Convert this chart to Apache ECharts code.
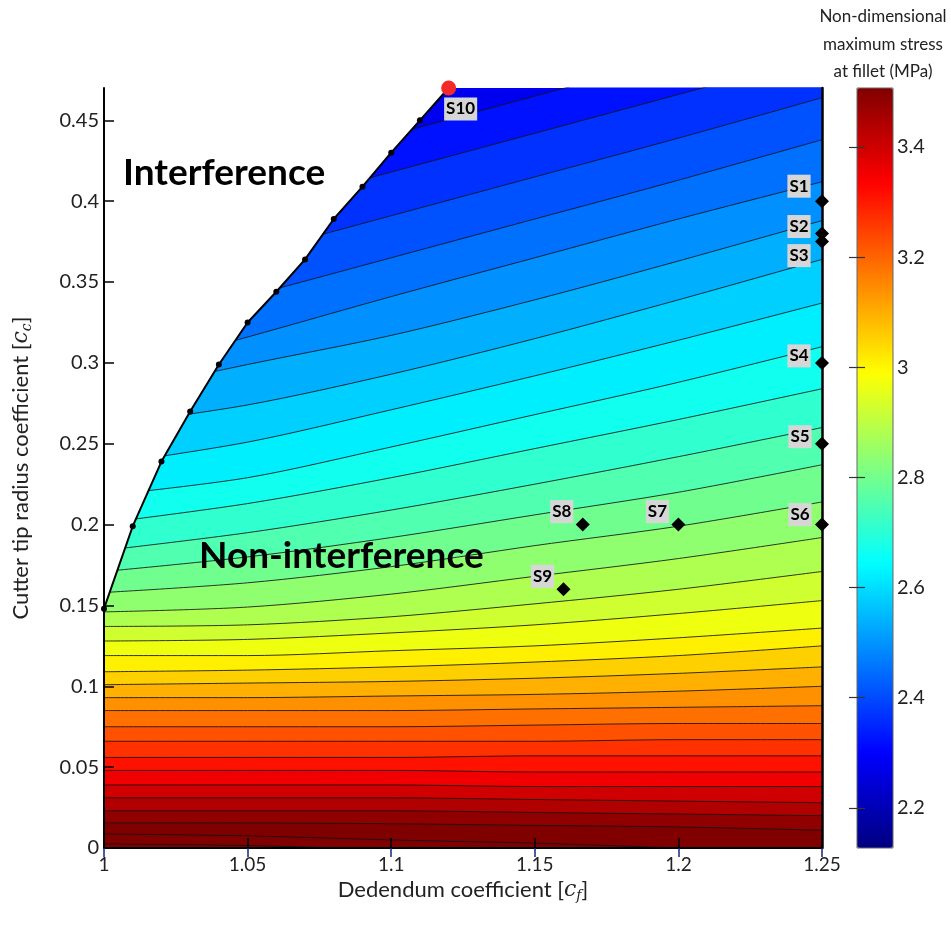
<!DOCTYPE html>
<html>
<head>
<meta charset="utf-8">
<script src="https://cdn.jsdelivr.net/npm/echarts@6/dist/echarts.min.js"></script>
<style>html,body{margin:0;padding:0;background:#fff}#c{width:951px;height:931px}</style>
</head>
<body>
<div id="c"></div>
<script>
// ---------------- data ----------------
const xCols = [1.00, 1.05, 1.10, 1.15, 1.20, 1.25];
// stress level of each contour line (lowest stress / top line first)
const contourLevels = [2.301, 2.344, 2.387, 2.430, 2.473, 2.516, 2.559, 2.602, 2.645, 2.688, 2.731,
  2.774, 2.817, 2.860, 2.903, 2.946, 2.989, 3.032, 3.075, 3.118, 3.161, 3.204, 3.247, 3.290, 3.333,
  3.376, 3.419, 3.462, 3.505, 3.548, 3.591];
// cutter tip radius coefficient of each contour line at xCols
const contourY = [
  [0.382, 0.417, 0.441, 0.465, 0.489, 0.513],
  [0.370, 0.394, 0.418, 0.442, 0.466, 0.490],
  [0.343, 0.367, 0.391, 0.415, 0.439, 0.464],
  [0.317, 0.341, 0.365, 0.389, 0.413, 0.438],
  [0.292, 0.316, 0.341, 0.365, 0.389, 0.412],
  [0.280, 0.299, 0.317, 0.339, 0.363, 0.388],
  [0.261, 0.274, 0.293, 0.315, 0.339, 0.364],
  [0.237, 0.251, 0.271, 0.292, 0.314, 0.337],
  [0.218, 0.229, 0.248, 0.268, 0.288, 0.310],
  [0.201, 0.213, 0.229, 0.247, 0.265, 0.284],
  [0.184, 0.195, 0.209, 0.225, 0.242, 0.260],
  [0.171, 0.180, 0.192, 0.206, 0.220, 0.237],
  [0.158, 0.164, 0.174, 0.187, 0.199, 0.214],
  [0.146, 0.149, 0.157, 0.168, 0.179, 0.192],
  [0.137, 0.138, 0.143, 0.151, 0.160, 0.171],
  [0.128, 0.129, 0.133, 0.138, 0.145, 0.153],
  [0.119, 0.119, 0.122, 0.125, 0.130, 0.136],
  [0.109, 0.110, 0.112, 0.115, 0.119, 0.125],
  [0.101, 0.102, 0.103, 0.105, 0.108, 0.112],
  [0.093, 0.093, 0.094, 0.095, 0.097, 0.100],
  [0.085, 0.085, 0.085, 0.086, 0.087, 0.088],
  [0.075, 0.075, 0.075, 0.076, 0.077, 0.077],
  [0.066, 0.066, 0.066, 0.066, 0.067, 0.067],
  [0.056, 0.056, 0.056, 0.057, 0.057, 0.057],
  [0.048, 0.048, 0.048, 0.047, 0.047, 0.047],
  [0.039, 0.039, 0.039, 0.038, 0.038, 0.038],
  [0.031, 0.031, 0.031, 0.030, 0.029, 0.028],
  [0.023, 0.023, 0.023, 0.022, 0.021, 0.020],
  [0.0155, 0.0155, 0.015, 0.014, 0.013, 0.011],
  [0.0087, 0.0075, 0.005, 0.003, 0.000, -0.003],
  [0.0025, 0.0015, -0.001, -0.004, -0.007, -0.010]
];
const topBandLevel = 2.28;
// interference boundary
const boundaryX = [1.00, 1.01, 1.02, 1.03, 1.04, 1.05, 1.06, 1.07, 1.08, 1.09, 1.10, 1.11, 1.12];
const boundaryY = [0.148, 0.199, 0.239, 0.270, 0.299, 0.325, 0.344, 0.364, 0.389, 0.409, 0.430, 0.450, 0.47];
// design points
const pointNames = ['S1', 'S2', 'S3', 'S4', 'S5', 'S6', 'S7', 'S8', 'S9'];
const pointX = [1.25, 1.25, 1.25, 1.25, 1.25, 1.25, 1.20, 1.1667, 1.16];
const pointY = [0.40, 0.38, 0.375, 0.30, 0.25, 0.20, 0.20, 0.20, 0.16];
const optimumName = 'S10';
const optimumX = 1.12, optimumY = 0.47;
const colorbarMin = 2.127, colorbarMax = 3.507;
const colorbarTicks = [2.2, 2.4, 2.6, 2.8, 3.0, 3.2, 3.4];

// ---------------- style ----------------
const labelOffsets = [[-23,-15],[-23,-7],[-23,14],[-23,-7],[-22,-7],[-22,-10],[-21,-13],[-21,-13],[-21,-13]];
const FONT = 'Lato';
function jet(v) {
  let t = (v - colorbarMin) / (colorbarMax - colorbarMin);
  t = Math.max(0, Math.min(1, t));
  const c = x => Math.round(255 * Math.max(0, Math.min(1, x)));
  const r = c(Math.min(4 * t - 1.5, -4 * t + 4.5));
  const g = c(Math.min(4 * t - 0.5, -4 * t + 3.5));
  const b = c(Math.min(4 * t + 0.5, -4 * t + 2.5));
  return `rgb(${r},${g},${b})`;
}
const jetStops = ['#000080', '#0000ff', '#0080ff', '#00ffff', '#80ff80', '#ffff00', '#ff8000', '#ff0000', '#800000'];
const labelBox = { color: '#000', fontWeight: 'bold', fontSize: 17, fontFamily: FONT,
  backgroundColor: '#d6d6d6', padding: [4, 2, 2, 2] };

const series = [];
contourY.forEach((row, k) => {
  const next = k + 1 < contourLevels.length ? contourLevels[k + 1] : contourLevels[k] + 0.043;
  series.push({
    type: 'line', xAxisIndex: 0, yAxisIndex: 0,
    data: xCols.map((x, i) => [x, row[i]]),
    smooth: 0.3, symbol: 'none', silent: true, z: 2,
    lineStyle: { color: '#141414', width: 1, opacity: 0.85 },
    areaStyle: { color: jet((contourLevels[k] + next) / 2), opacity: 1, origin: 'start' }
  });
});
// interference region (white, above the boundary)
series.push({
  type: 'line', xAxisIndex: 0, yAxisIndex: 0, z: 3, silent: true,
  data: boundaryX.map((x, i) => [x, boundaryY[i]]),
  smooth: false,
  symbol: 'circle', symbolSize: 6, showAllSymbol: true,
  itemStyle: { color: '#000', opacity: 1 },
  lineStyle: { color: '#000', width: 2 },
  areaStyle: { color: '#fff', opacity: 1, origin: 'end' }
});
// design points
series.push({
  type: 'scatter', xAxisIndex: 0, yAxisIndex: 0, z: 6, clip: false,
  symbol: 'diamond', symbolSize: 14, itemStyle: { color: '#000', opacity: 1 },
  data: pointNames.map((n, i) => ({
    name: n, value: [pointX[i], pointY[i]],
    label: Object.assign({ show: true, position: 'inside', offset: labelOffsets[i], formatter: n }, labelBox)
  }))
});
// optimum
series.push({
  type: 'scatter', xAxisIndex: 0, yAxisIndex: 0, z: 7, clip: false,
  symbol: 'circle', symbolSize: 15, itemStyle: { color: '#f42a2a', opacity: 1 },
  data: [{ name: optimumName, value: [optimumX, optimumY],
    label: Object.assign({ show: true, position: 'inside', offset: [12, 21], formatter: optimumName }, labelBox) }]
});
series.push({
  type: 'scatter', xAxisIndex: 0, yAxisIndex: 0, z: 7, clip: false,
  symbol: 'none', symbolSize: 1,
  data: [{ value: [optimumX, optimumY],
    label: { show: true, position: 'inside', offset: [-2, -19], formatter: 'Optimum',
      color: '#000', fontWeight: 'bold', fontSize: 18, fontFamily: FONT } }]
});
// dummy for colour bar
series.push({ type: 'scatter', xAxisIndex: 1, yAxisIndex: 2, data: [] });
const dummyIndex = series.length - 1;

const richName = {
  n: { fontSize: 22, fontFamily: FONT, color: '#222' },
  i: { fontSize: 22, fontFamily: 'DejaVu Serif', fontStyle: 'italic', color: '#222' },
  s: { fontSize: 14, fontFamily: 'DejaVu Serif', fontStyle: 'italic', color: '#222', padding: [12, 0, 0, 0] }
};

const chart = echarts.init(document.getElementById('c'), null, { renderer: 'canvas' });
chart.setOption({
  animation: false,
  textStyle: { fontFamily: FONT },
  grid: [
    { left: 104, top: 88, right: 129, bottom: 83, show: true, backgroundColor: jet(topBandLevel), borderWidth: 0 },
    { left: 857, top: 88, width: 36, height: 760, show: true, backgroundColor: 'transparent', borderColor: '#666', borderWidth: 1, z: 10 }
  ],
  xAxis: [
    { type: 'value', gridIndex: 0, min: 1, max: 1.25, interval: 0.05, z: 10,
      name: '{n|Dedendum coefficient [}{i|c}{s|f}{n|]}', nameLocation: 'middle', nameGap: 24,
      nameTextStyle: { rich: richName },
      axisLine: { lineStyle: { color: '#000', width: 2 } },
      axisTick: { inside: true, length: 10, lineStyle: { color: '#000', width: 1.5 } },
      axisLabel: { fontSize: 19, color: '#222', margin: 7 },
      splitLine: { show: false } },
    { type: 'value', gridIndex: 1, show: false, min: 0, max: 1 },
    { type: 'value', gridIndex: 0, position: 'top', min: 1, max: 1.25, interval: 0.05, z: 10,
      axisLine: { show: true, lineStyle: { color: '#000', width: 1.5 } },
      axisTick: { inside: true, length: 9, lineStyle: { color: '#1a237e', width: 1.5 } },
      axisLabel: { show: false }, splitLine: { show: false } }
  ],
  yAxis: [
    { type: 'value', gridIndex: 0, min: 0, max: 0.47, interval: 0.05, z: 10,
      name: '{n|Cutter tip radius coefficient [}{i|c}{s|c}{n|]}', nameLocation: 'middle', nameGap: 70,
      nameTextStyle: { rich: richName },
      axisLine: { lineStyle: { color: '#000', width: 2 } },
      axisTick: { inside: true, length: 10, lineStyle: { color: '#000', width: 1.5 } },
      axisLabel: { fontSize: 20, color: '#222', margin: 5, showMaxLabel: false },
      splitLine: { show: false } },
    { type: 'value', gridIndex: 0, position: 'right', min: 0, max: 0.47, z: 10,
      axisLine: { show: true, lineStyle: { color: '#000', width: 2.5 } },
      axisTick: { show: false }, axisLabel: { show: false }, splitLine: { show: false } },
    { type: 'value', gridIndex: 1, position: 'right', min: colorbarMin, max: colorbarMax, z: 12,
      axisLine: { show: false },
      axisTick: { show: true, inside: true, length: 8, customValues: colorbarTicks, lineStyle: { color: '#333', width: 1.2 } },
      axisLabel: { fontSize: 20, color: '#222', margin: 4, customValues: colorbarTicks, formatter: v => String(+v.toFixed(1)) },
      splitLine: { show: false } },
    { type: 'value', gridIndex: 1, position: 'left', min: colorbarMin, max: colorbarMax, z: 12,
      axisLine: { show: false },
      axisTick: { show: true, inside: true, length: 8, customValues: colorbarTicks, lineStyle: { color: '#333', width: 1.2 } },
      axisLabel: { show: false }, splitLine: { show: false } }
  ],
  visualMap: {
    type: 'continuous', seriesIndex: dummyIndex, min: colorbarMin, max: colorbarMax,
    left: 857, top: 88, itemWidth: 36, itemHeight: 760, padding: 0, calculable: false,
    text: null, showLabel: false, realtime: false, hoverLink: false,
    inRange: { color: jetStops }
  },
  graphic: [
    { type: 'text', x: 883, y: 3, z: 20,
      style: { text: 'Non-dimensional\nmaximum stress\nat fillet (MPa)', font: '17px ' + FONT, lineHeight: 27.5, align: 'center', fill: '#222' } },
    { type: 'text', left: 123, top: 155, z: 20,
      style: { text: 'Interference', font: 'bold 37px ' + FONT, fill: '#000' } },
    { type: 'text', left: 199, top: 538, z: 20,
      style: { text: 'Non-interference', font: 'bold 37px ' + FONT, fill: '#000' } }
  ],
  series: series
});
</script>
</body>
</html>
